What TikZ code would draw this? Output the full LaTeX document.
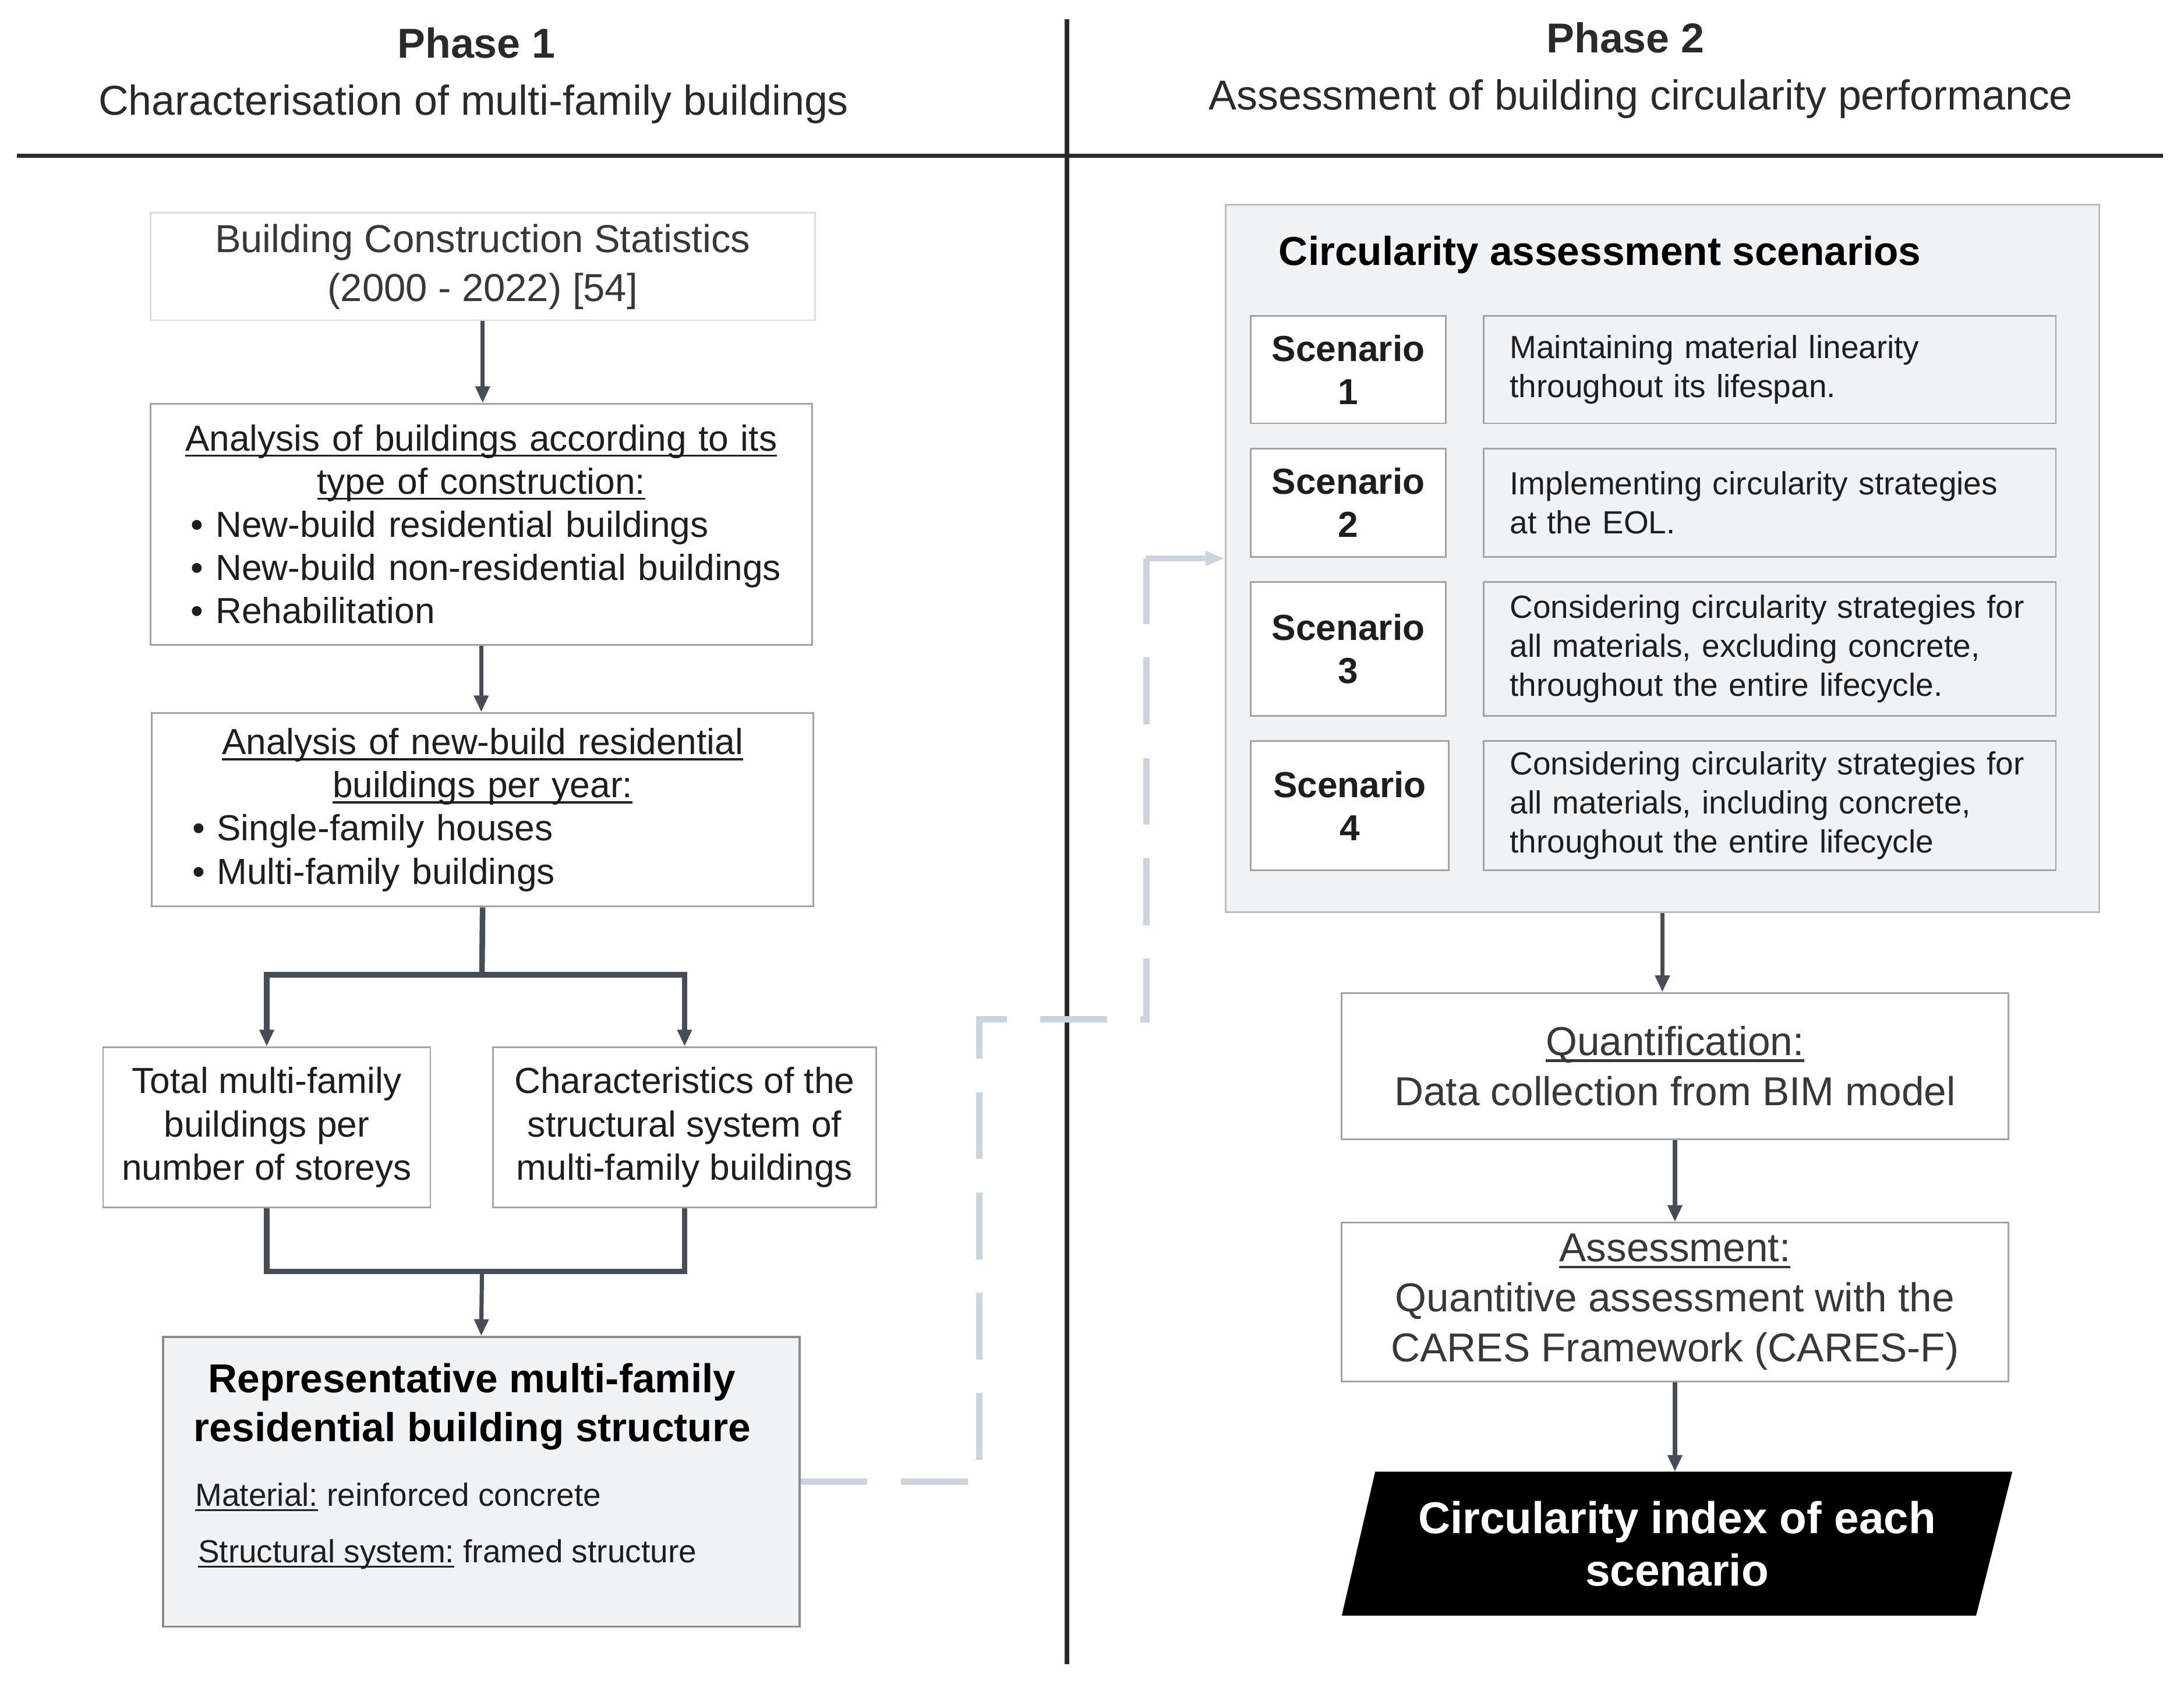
\documentclass[tikz,border=0pt]{standalone}
\usepackage{fontspec}
\setmainfont{Liberation Sans}
\usetikzlibrary{positioning,arrows.meta,calc,backgrounds}
\newcommand{\ulbox}[1]{\leavevmode\setbox0=\hbox{#1}\rlap{\rule[-0.16em]{\wd0}{0.06em}}\box0\relax}
\newcommand{\bul}{\hspace*{13pt}\textbullet\ }
\definecolor{ink}{HTML}{1E1E1E}
\definecolor{softink}{HTML}{383838}
\definecolor{frame}{HTML}{A3A3A3}
\definecolor{lightframe}{HTML}{DCDCDC}
\definecolor{panel}{HTML}{F1F2F4}
\definecolor{flow}{HTML}{474C55}
\definecolor{linkgray}{HTML}{CDD4DD}
\definecolor{rulecol}{HTML}{2A2A2A}

\begin{document}
\begin{tikzpicture}[
    x=1pt, y=-1pt,
    box/.style={rectangle, draw=frame, line width=1.2pt, fill=white,
        align=center, inner sep=0pt, text=ink,
        font=\fontsize{26}{31}\selectfont},
    listbox/.style={box, align=left, inner xsep=16pt, text width=443pt},
    scenlab/.style={box, minimum width=140pt,
        font=\fontsize{26}{31}\selectfont\bfseries},
    scentxt/.style={box, fill=panel, align=left, inner xsep=19pt,
        text width=373pt, font=\fontsize{23}{28}\selectfont},
    stepbox/.style={box, text=softink, font=\fontsize{29}{36}\selectfont},
    heading/.style={font=\fontsize{30}{36}\selectfont\bfseries, text=rulecol},
    subheading/.style={font=\fontsize{30}{36}\selectfont, text=rulecol},
    flowarrow/.style={-{Triangle[length=12pt,width=10pt]}, line width=3pt, draw=flow},
    branch/.style={line width=4pt, draw=flow},
    dashlink/.style={line width=4.5pt, draw=linkgray, dash pattern=on 48pt off 24pt},
    linktip/.style={-{Triangle[length=14pt,width=10pt]}, line width=4.5pt, draw=linkgray},
    rule/.style={line width=3pt, draw=rulecol}
]
\useasboundingbox (0,0) rectangle (1568,1209);

% Phase headings
\node[heading] (phase1) at (342,31) {Phase 1};
\node[subheading] (phase1sub) at (340,75) {Characterisation of multi-family buildings};
\node[heading] (phase2) at (1167,27) {Phase 2};
\node[subheading] (phase2sub) at (1178,71) {Assessment of building circularity performance};

\draw[rule] (12,112) -- (1553,112);
\draw[rule] (766,14) -- (766,1195);

% Phase 1
\node[box, draw=lightframe, text=softink, minimum width=477pt, minimum height=77pt,
    font=\fontsize{28}{35}\selectfont] (stats) at (346.5,191.5)
    {Building Construction Statistics\\(2000 - 2022) [54]};

\node[listbox, minimum height=173pt] (typebox) at (345.5,376.5)
    {{\centering\ulbox{Analysis of buildings according to its}\\
     \ulbox{type of construction:}\par}
     \bul New-build residential buildings\\
     \bul New-build non-residential buildings\\
     \bul Rehabilitation};

\node[listbox, minimum height=139pt] (resbox) at (346.5,581.5)
    {{\centering\ulbox{Analysis of new-build residential}\\
     \ulbox{buildings per year:}\par}
     \bul Single-family houses\\
     \bul Multi-family buildings};

\node[box, minimum width=235pt, minimum height=115pt] (total) at (191.5,809.5)
    {Total multi-family\\buildings per\\number of storeys};
\node[box, minimum width=275pt, minimum height=115pt] (struct) at (491.5,809.5)
    {Characteristics of the\\structural system of\\multi-family buildings};

\node[box, draw=frame!85!black, line width=1.5pt, fill=panel,
    minimum width=457pt, minimum height=208pt] (rep) at (345.5,1064) {};
\node[font=\fontsize{29}{35}\selectfont\bfseries, text=black, align=center,
    inner sep=0pt] (reptitle) at (339,1010)
    {Representative multi-family\\residential building structure};
\node[anchor=west, font=\fontsize{23}{28}\selectfont, text=ink, inner sep=0pt]
    (repmat) at (140,1075) {\ulbox{Material:} reinforced concrete};
\node[anchor=west, font=\fontsize{23}{28}\selectfont, text=ink, inner sep=0pt]
    (repsys) at (142,1116) {\ulbox{Structural system:} framed structure};

\draw[flowarrow] (stats.south) -- (stats.south |- typebox.north);
\draw[flowarrow] (typebox.south) -- (typebox.south |- resbox.north);
\coordinate (split) at (346,700);
\draw[branch] (resbox.south) -- (split);
\draw[flowarrow, line width=4pt] (split) -| (total.north);
\draw[flowarrow, line width=4pt] (split) -| (struct.north);
\coordinate (join) at (346,913);
\draw[branch] (total.south) |- (join) -| (struct.south);
\draw[flowarrow] (join) -- (rep.north);

% Phase 2
\node[box, draw=lightframe!85!black, fill=panel, minimum width=627pt,
    minimum height=508pt] (scen) at (1193.5,401) {};
\node[anchor=west, inner sep=0pt, text=black,
    font=\fontsize{29}{35}\selectfont\bfseries] (scentitle) at (918,183)
    {Circularity assessment scenarios};

\node[scenlab, minimum height=77pt] (s1lab) at (968,265.5) {Scenario\\1};
\node[scentxt, minimum height=77pt] (s1txt) at (1270.5,265.5)
    {Maintaining material linearity\\throughout its lifespan.};
\node[scenlab, minimum height=78pt] (s2lab) at (968,361) {Scenario\\2};
\node[scentxt, minimum height=78pt] (s2txt) at (1270.5,361)
    {Implementing circularity strategies\\at the EOL.};
\node[scenlab, minimum height=96pt] (s3lab) at (968,466) {Scenario\\3};
\node[scentxt, minimum height=96pt] (s3txt) at (1270.5,466)
    {Considering circularity strategies for\\all materials, excluding concrete,\\throughout the entire lifecycle.};
\node[scenlab, minimum width=142pt, minimum height=93pt] (s4lab) at (969,578.5) {Scenario\\4};
\node[scentxt, minimum height=93pt] (s4txt) at (1270.5,578.5)
    {Considering circularity strategies for\\all materials, including concrete,\\throughout the entire lifecycle};

\node[stepbox, minimum width=479pt, minimum height=105pt] (quant) at (1202.5,765.5)
    {\ulbox{Quantification:}\\Data collection from BIM model};
\node[stepbox, minimum width=479pt, minimum height=114pt] (assess) at (1202.5,935)
    {\ulbox{Assessment:}\\Quantitive assessment with the\\CARES Framework (CARES-F)};
\node[inner sep=0pt, minimum width=455pt, minimum height=103pt, align=center,
    text=white, font=\fontsize{32}{38}\selectfont\bfseries] (index) at (1204,1108.5)
    {Circularity index of each\\scenario};
\begin{scope}[on background layer]
\fill[black] ($(index.south west)+(-13,0)$) -- ($(index.north west)+(11,0)$)
    -- ($(index.north east)+(13,0)$) -- ($(index.south east)+(-13,0)$) -- cycle;
\end{scope}

\draw[flowarrow] (scen.south) -- (scen.south |- quant.north);
\draw[flowarrow] (quant.south) -- (quant.south |- assess.north);
\draw[flowarrow] (assess.south) -- (assess.south |- index.north);

% Link between the phases
\coordinate (bend) at (703,732);
\coordinate (rise) at (823,401);
\draw[dashlink] (rep.east) -| (bend) -| (rise);
\draw[linktip] (rise) -- (scen.west);

\end{tikzpicture}
\end{document}
